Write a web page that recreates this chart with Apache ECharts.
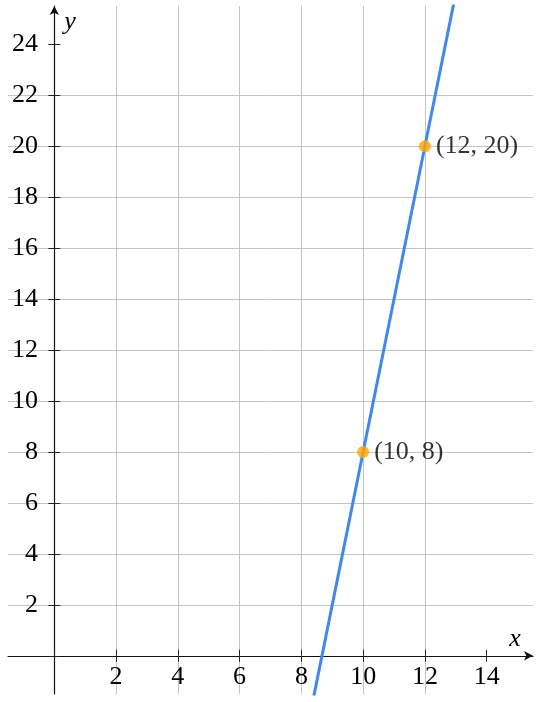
<!DOCTYPE html>
<html>
<head>
<meta charset="utf-8">
<script src="https://cdn.jsdelivr.net/npm/echarts@6/dist/echarts.min.js"></script>
<style>
html,body{margin:0;padding:0;background:#fff;}
#c{width:542px;height:702px;}
</style>
</head>
<body>
<div id="c"></div>
<script>
// Data
const xRange = [-1.5, 15.5];
const yRange = [-1.5, 25.5];
const labelStep = 2;
const xGridValues = [0, 2, 4, 6, 8, 10, 12, 14];
const yGridValues = [0, 2, 4, 6, 8, 10, 12, 14, 16, 18, 20, 22, 24];
const lineX = [8.25, 13];
const lineY = [-2.5, 26];
const pointX = [10, 12];
const pointY = [8, 20];
const pointLabels = ['(10, 8)', '(12, 20)'];

const FONT = '"Liberation Serif", "DejaVu Serif", serif';
const FS = 26;
const chart = echarts.init(document.getElementById('c'), null, {renderer: 'canvas'});

const lineData = lineX.map((x, i) => [x, lineY[i]]);
const pointData = pointX.map((x, i) => ({value: [x, pointY[i]], label: {formatter: pointLabels[i]}}));

function isLabel(v) {
  return v > 0 && Math.abs(v / labelStep - Math.round(v / labelStep)) < 1e-9;
}

function mainAxis(name, range, gridVals, position) {
  return {
    type: 'value',
    position: position,
    min: range[0], max: range[1],
    interval: 0.5,
    name: name,
    axisLine: {show: true, onZero: true, onZeroAxisIndex: 0, symbol: ['none', 'arrow'], symbolSize: [7, 9], lineStyle: {color: '#111', width: 1.2}},
    axisTick: {show: true, length: 6, customValues: gridVals, lineStyle: {color: '#222', width: 1}},
    splitLine: {show: true, showMinLine: false, showMaxLine: false, lineStyle: {color: '#c4c4c4', width: 1}},
    axisLabel: {
      color: '#000', fontFamily: FONT, fontSize: FS,
      showMinLabel: true, showMaxLabel: true, hideOverlap: false,
      formatter: v => isLabel(v) ? String(Math.round(v)) : ''
    }
  };
}

function tickAxis(range, gridVals, position) {
  return {
    type: 'value',
    position: position,
    min: range[0], max: range[1],
    axisLine: {show: true, onZero: true, onZeroAxisIndex: 0, lineStyle: {color: '#000', width: 1, opacity: 0}},
    axisTick: {show: true, inside: false, length: 6, customValues: gridVals, lineStyle: {color: '#222', width: 1}},
    splitLine: {show: false},
    axisLabel: {show: false}
  };
}

const xAxis = mainAxis('x', xRange, xGridValues, 'bottom');
xAxis.nameLocation = 'end';
xAxis.nameGap = -18;
xAxis.nameTextStyle = {fontFamily: FONT, fontStyle: 'italic', fontSize: FS, color: '#000', align: 'center', verticalAlign: 'bottom', padding: [0, 0, 4, 0]};
xAxis.axisLabel.margin = -30;

const yAxis = mainAxis('y', yRange, yGridValues, 'left');
yAxis.nameLocation = 'end';
yAxis.nameGap = -16;
yAxis.nameTextStyle = {fontFamily: FONT, fontStyle: 'italic', fontSize: FS, color: '#000', align: 'left', verticalAlign: 'middle', padding: [0, 0, 0, 10]};
yAxis.axisLabel.margin = -30;

chart.setOption({
  animation: false,
  backgroundColor: '#fff',
  grid: {left: 8, right: 9, top: 6, bottom: 8, containLabel: false, outerBoundsMode: 'none'},
  xAxis: [xAxis, tickAxis(xRange, xGridValues, 'top')],
  yAxis: [yAxis, tickAxis(yRange, yGridValues, 'right')],
  series: [
    {
      type: 'line', data: lineData, showSymbol: false, symbol: 'none', clip: true,
      lineStyle: {color: '#4287f0', width: 3}, z: 3
    },
    {
      type: 'scatter', data: pointData, symbolSize: 12, z: 4,
      itemStyle: {color: '#ffa500'},
      label: {show: true, position: 'right', distance: 5, color: '#000', fontFamily: FONT, fontSize: FS}
    }
  ]
});
</script>
</body>
</html>
